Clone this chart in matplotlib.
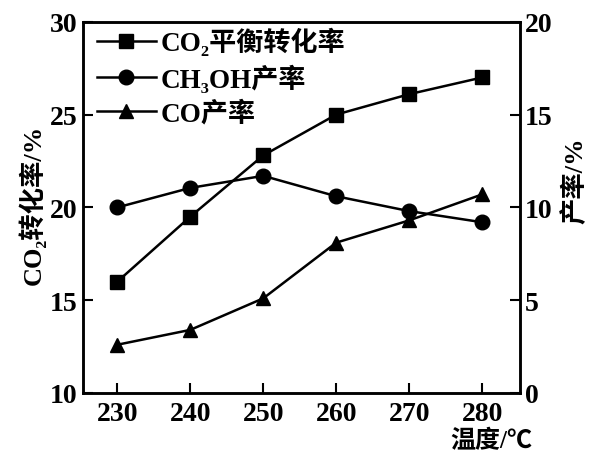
import matplotlib
matplotlib.use("Agg")
import matplotlib.pyplot as plt

plt.rcParams['font.family'] = ['Liberation Serif', 'Noto Sans CJK SC', 'DejaVu Sans']
plt.rcParams['font.weight'] = 'bold'

temps = [230, 240, 250, 260, 270, 280]
co2_conv = [16.0, 19.5, 22.8, 25.0, 26.1, 27.0]
ch3oh_yield = [10.0, 11.05, 11.7, 10.6, 9.8, 9.2]
co_yield = [2.6, 3.4, 5.1, 8.1, 9.3, 10.7]

x_ticks = [230, 240, 250, 260, 270, 280]
left_ticks = [10, 15, 20, 25, 30]
right_ticks = [0, 5, 10, 15, 20]

fig = plt.figure(figsize=(5.89, 4.56), dpi=100)
ax = fig.add_axes([0.141, 0.136, 0.742, 0.814])
ax2 = ax.twinx()

l1, = ax.plot(temps, co2_conv, color='black', lw=1.8, marker='s', ms=10.5,
              label='CO₂平衡转化率')
l2, = ax2.plot(temps, ch3oh_yield, color='black', lw=1.8, marker='o', ms=10.5,
               label='CH₃OH产率')
l3, = ax2.plot(temps, co_yield, color='black', lw=1.8, marker='^', ms=10.5,
               label='CO产率')

ax.set_xlim(225.3, 285.2)
ax.set_ylim(10, 30)
ax2.set_ylim(0, 20)
ax.set_xticks(x_ticks)
ax.set_yticks(left_ticks)
ax2.set_yticks(right_ticks)

for a in (ax, ax2):
    a.tick_params(direction='in', length=7, width=1.5, labelsize=20)
    for s in a.spines.values():
        s.set_linewidth(1.8)
ax.tick_params(axis='x', pad=6)
ax.tick_params(axis='y', pad=4)

ax.set_ylabel('CO₂转化率/%', fontsize=19, fontweight='bold')
ax2.set_ylabel('产率/%', fontsize=19, fontweight='bold')
ax.yaxis.label.set_va('center')
ax2.yaxis.label.set_va('center')
ax.yaxis.set_label_coords(-0.116, 0.51)
ax2.yaxis.set_label_coords(1.124, 0.575)
ax.set_xlabel('温度/℃', fontsize=18, fontweight='bold')
ax.xaxis.label.set_va('center')
ax.xaxis.set_label_coords(0.935, -0.128)

ax.legend(handles=[l1, l2, l3], loc='upper left', frameon=False, fontsize=19.5,
          handlelength=2.2, borderaxespad=0.1, labelspacing=0.3, handletextpad=0.15,
          bbox_to_anchor=(0.0, 1.02))

fig.savefig('out.png', dpi=100)
